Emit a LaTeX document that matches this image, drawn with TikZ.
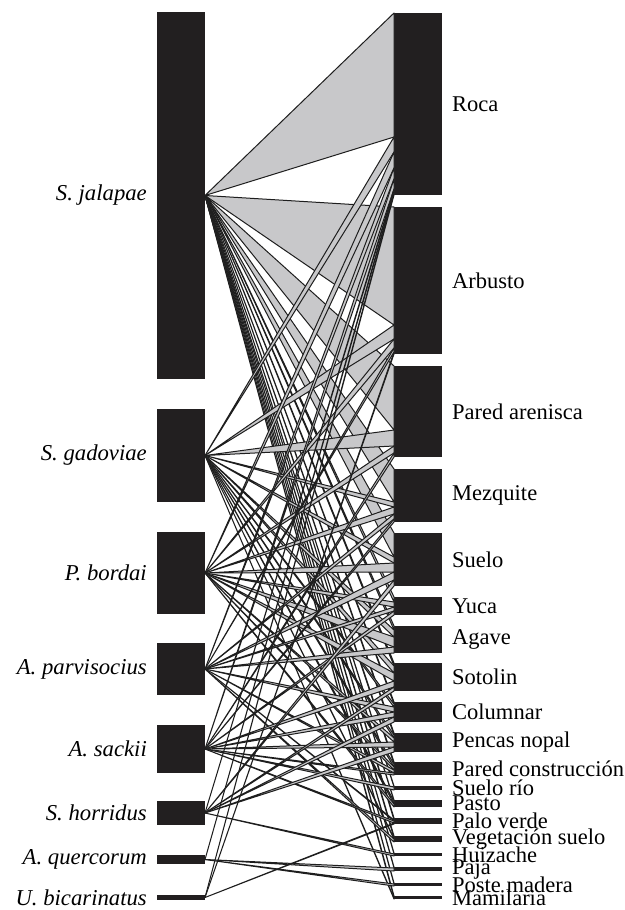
\documentclass[tikz,border=0pt]{standalone}
\usepackage{fontspec}
\setmainfont{Liberation Serif}
\definecolor{boxc}{RGB}{34,31,32}
\definecolor{linkc}{RGB}{200,200,202}
\definecolor{edgec}{RGB}{30,30,30}
\newcommand\lbox[4]{%
  \node[bx, minimum height=#3bp-#2bp] (#1) at (181,{(#2+#3)/2}) {};
  \node[ll] (#1-lab) at ([xshift=-10bp]#1.west) {#4};}
\newcommand\rbox[4]{%
  \node[bx, minimum height=#3bp-#2bp] (#1) at (418,{(#2+#3)/2}) {};
  \node[rl] (#1-lab) at ([xshift=10bp]#1.east) {#4};
  \expandafter\gdef\csname off#1\endcsname{0}}
\newcommand\links[2]{%
  \foreach \c/\w in {#2}{%
    \pgfmathsetmacro\lsa{\csname off\c\endcsname}%
    \pgfmathsetmacro\lsb{\lsa+\w}%
    \filldraw[lnk] (#1.east) -- ([yshift=-\lsa bp]\c.north west) -- ([yshift=-\lsb bp]\c.north west) -- cycle;
    \expandafter\xdef\csname off\c\endcsname{\lsb}%
  }}
\begin{document}
\begin{tikzpicture}[x=1bp,y=-1bp,
  bx/.style={fill=boxc, draw=none, inner sep=0pt, outer sep=0pt, minimum width=48bp},
  lnk/.style={fill=linkc, draw=edgec, line width=1bp, line join=round},
  ll/.style={anchor=east, inner sep=0pt, font=\fontsize{22.8}{26}\selectfont\itshape},
  rl/.style={anchor=west, inner sep=0pt, font=\fontsize{22.6}{26}\selectfont}]
\useasboundingbox (0,0) rectangle (625,910);
% left boxes
\lbox{J}{12}{379}{S. jalapae}
\lbox{G}{409}{502}{S. gadoviae}
\lbox{B}{532}{614}{P. bordai}
\lbox{P}{643}{695}{A. parvisocius}
\lbox{K}{725}{773}{A. sackii}
\lbox{H}{801}{825}{S. horridus}
\lbox{Q}{855}{864}{A. quercorum}
\lbox{U}{895}{900}{U. bicarinatus}
% right boxes
\rbox{Ro}{13}{195}{Roca}
\rbox{Ar}{207}{354}{Arbusto}
\rbox{Pa}{366}{457}{Pared arenisca}
\rbox{Me}{469}{522}{Mezquite}
\rbox{Su}{533}{586}{Suelo}
\rbox{Yu}{597}{615}{Yuca}
\rbox{Ag}{626}{653}{Agave}
\rbox{So}{663}{691}{Sotolin}
\rbox{Co}{702}{722}{Columnar}
\rbox{Pn}{733}{752}{Pencas nopal}
\rbox{Pc}{762}{775}{Pared construcción}
\rbox{Sr}{786}{790}{Suelo río}
\rbox{Ps}{800}{807}{Pasto}
\rbox{Pv}{818}{824}{Palo verde}
\rbox{Vs}{836}{842}{Vegetación suelo}
\rbox{Hu}{853}{856}{Huizache}
\rbox{Pj}{867}{871}{Paja}
\rbox{Pm}{883}{886}{Poste madera}
\rbox{Ma}{896}{899}{Mamilaria}
% links
\links{J}{Ro/124,Ar/118,Pa/64,Me/33,Su/24,Yu/5,Ag/4,So/3,Co/2,Pn/2,Pc/2,Sr/1,Ps/1,Pv/2,Vs/2,Hu/1,Pj/1,Pm/1,Ma/2}
\links{G}{Ro/15,Ar/14,Pa/16,Me/5,Su/6,Ag/7,So/7,Co/3,Pn/3,Pc/3,Ps/3,Vs/1,Ma/1}
\links{B}{Ro/16,Ar/9,Pa/7,Me/7,Su/9,Yu/5,Ag/10,So/8,Pn/4,Pc/3,Ps/3}
\links{P}{Ro/11,Ar/4,Me/5,Su/8,Yu/4,Ag/6,Co/5,Pc/3,Pv/1,Vs/3}
\links{K}{Ro/10,Pa/4,Me/3,Yu/4,So/6,Co/5,Pn/5,Pc/2,Sr/3,Pv/2}
\links{H}{Ro/2,Su/6,So/4,Co/5,Pn/5,Hu/2}
\links{Q}{Ro/2,Pj/3,Pm/2}
\links{U}{Ro/2,Ar/2,Pv/1}
\end{tikzpicture}
\end{document}
